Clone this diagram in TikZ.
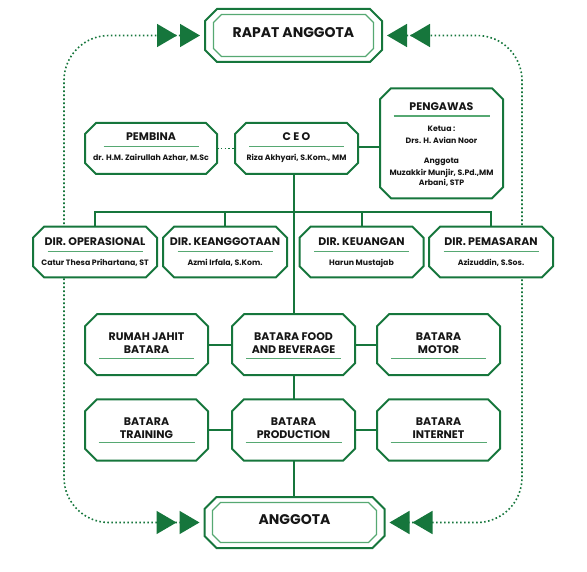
\documentclass[tikz,border=0pt]{standalone}
\usepackage{fontspec}
\setmainfont{Poppins}
\usetikzlibrary{arrows.meta}
\definecolor{gr}{RGB}{22,118,60}
\definecolor{lg}{RGB}{86,168,114}
\definecolor{tx}{RGB}{22,22,22}
\pgfdeclarelayer{bg}
\pgfsetlayers{bg,main}
\newcommand\octo[3][11pt]{\draw[#3] ([xshift=#1]#2.north west) -- ([xshift=-#1]#2.north east) -- ([yshift=-#1]#2.north east) -- ([yshift=#1]#2.south east) -- ([xshift=-#1]#2.south east) -- ([xshift=#1]#2.south west) -- ([yshift=#1]#2.south west) -- ([yshift=-#1]#2.north west) -- cycle;}
\tikzset{
  boxline/.style={draw=gr, fill=white, line width=2pt, line join=miter},
  innerline/.style={draw=lg, line width=1.3pt, line join=miter},
  frame/.style={draw=none, inner sep=0pt, outer sep=0pt},
  conn/.style={draw=gr, line width=2pt},
  dots/.style={draw=gr, line width=1.6pt, dash pattern=on 1.6pt off 2.4pt, rounded corners=45pt},
  uline/.style={draw=lg, line width=1.3pt},
  big/.style={font=\bfseries\fontsize{14}{16}\selectfont, text=tx, inner sep=0pt, text height=0.7em, text depth=0pt},
  ttl/.style={font=\bfseries\fontsize{11}{12}\selectfont, text=tx, inner sep=0pt, text height=0.7em, text depth=0pt},
  sub/.style={font=\bfseries\fontsize{7.8}{8}\selectfont, text=tx, inner sep=0pt, text height=0.7em, text depth=0pt},
  tri/.tip={Triangle[length=20pt,width=23pt,sep=3pt]},
  dbl/.style={arrows={tri[]tri[]-tri[]tri[]}, shorten <=2pt, shorten >=2pt}
}
\begin{document}
\begin{tikzpicture}[x=1pt,y=-1pt]
\useasboundingbox (0,0) rectangle (587,572);
% top and bottom
\node[frame, minimum width=177pt, minimum height=53pt] (rapat) at (293.5,35.5) {};
\node[frame, minimum width=160pt, minimum height=42pt] (rapatIn) at (293.5,35.5) {};
\octo[12pt]{rapat}{boxline}
\octo[8pt]{rapatIn}{innerline}
\node[big] (rapatT) at ([yshift=1pt]rapat.center) {RAPAT ANGGOTA};

\node[frame, minimum width=180pt, minimum height=51pt] (anggota) at (294.5,522.5) {};
\node[frame, minimum width=164pt, minimum height=40pt] (anggotaIn) at (294.5,522.5) {};
\octo[12pt]{anggota}{boxline}
\octo[8pt]{anggotaIn}{innerline}
\node[big] (anggotaT) at ([yshift=1.5pt]anggota.center) {ANGGOTA};

% pembina, ceo, pengawas
\node[frame, minimum width=132pt, minimum height=51pt] (pembina) at (151,148.5) {};
\octo{pembina}{boxline}
\node[ttl] (pembinaT) at ([yshift=11.8pt]pembina.center) {PEMBINA};
\draw[uline] ([xshift=-47.5pt,yshift=1.8pt]pembina.center) -- ([xshift=47.5pt,yshift=1.8pt]pembina.center);
\node[sub] (pembinaS) at ([yshift=-8.2pt]pembina.center) {dr. H.M. Zairullah Azhar, M.Sc};

\node[frame, minimum width=123pt, minimum height=51pt] (ceo) at (296.5,148.5) {};
\octo{ceo}{boxline}
\node[ttl] (ceoT) at ([yshift=11.8pt]ceo.center) {C E O};
\draw[uline] ([xshift=-47.5pt,yshift=1.8pt]ceo.center) -- ([xshift=47.5pt,yshift=1.8pt]ceo.center);
\node[sub] (ceoS) at ([yshift=-8.2pt]ceo.center) {Riza Akhyari, S.Kom., MM};

\node[frame, minimum width=123pt, minimum height=110pt] (pengawas) at (441.5,143.3) {};
\octo{pengawas}{boxline}
\node[ttl] (pengawasT) at ([yshift=36pt]pengawas.center) {PENGAWAS};
\draw[uline] ([xshift=-48pt,yshift=27.3pt]pengawas.center) -- ([xshift=48pt,yshift=27.3pt]pengawas.center);
\node[sub] (pg1) at ([yshift=15pt]pengawas.center) {Ketua :};
\node[sub] (pg2) at ([yshift=3.3pt]pengawas.center) {Drs. H. Avian Noor};
\node[sub] (pg3) at ([yshift=-16.7pt]pengawas.center) {Anggota};
\node[sub] (pg4) at ([yshift=-29pt]pengawas.center) {Muzakkir Munjir, S.Pd.,MM};
\node[sub] (pg5) at ([yshift=-39pt]pengawas.center) {Arbani, STP};

% directors
\foreach \n/\x/\t/\s in {dops/95/DIR. OPERASIONAL/Catur Thesa Prihartana{,} ST, dkeang/225/DIR. KEANGGOTAAN/Azmi Irfala{,} S.Kom., dkeu/361.5/DIR. KEUANGAN/Harun Mustajab, dpem/491/DIR. PEMASARAN/Azizuddin{,} S.Sos.}{
  \node[frame, minimum width=124pt, minimum height=50.6pt] (\n) at (\x,252) {};
  \octo{\n}{boxline}
  \node[ttl] (\n T) at ([yshift=10.3pt]\n.center) {\t};
  \draw[uline] ([xshift=-47.5pt,yshift=0.3pt]\n.center) -- ([xshift=47.5pt,yshift=0.3pt]\n.center);
  \node[sub] (\n S) at ([yshift=-10.3pt]\n.center) {\s};
}

% row 2
\foreach \n/\x/\a/\b in {jahit/146.5/RUMAH JAHIT/BATARA, food/293.5/BATARA FOOD/AND BEVERAGE, motor/438.5/BATARA/MOTOR}{
  \node[frame, minimum width=123pt, minimum height=61pt] (\n) at (\x,344.7) {};
  \octo[12pt]{\n}{boxline}
  \node[ttl] (\n A) at ([yshift=7.4pt]\n.center) {\a};
  \node[ttl] (\n B) at ([yshift=-5.3pt]\n.center) {\b};
  \draw[uline] ([xshift=-47.5pt,yshift=-13.6pt]\n.center) -- ([xshift=47.5pt,yshift=-13.6pt]\n.center);
}
% row 3
\foreach \n/\x/\a/\b in {training/146.5/BATARA/TRAINING, prod/293.5/BATARA/PRODUCTION, internet/438.5/BATARA/INTERNET}{
  \node[frame, minimum width=123pt, minimum height=61.4pt] (\n) at (\x,430) {};
  \octo[12pt]{\n}{boxline}
  \node[ttl] (\n A) at ([yshift=7.7pt]\n.center) {\a};
  \node[ttl] (\n B) at ([yshift=-5pt]\n.center) {\b};
  \draw[uline] ([xshift=-48pt,yshift=-12.3pt]\n.center) -- ([xshift=48pt,yshift=-12.3pt]\n.center);
}

% connectors
\begin{pgfonlayer}{bg}
\coordinate (bus) at (293.5,212);
\draw[conn, dash pattern=on 1.6pt off 2.2pt, line width=1.6pt] (pembina.east) -- (ceo.west);
\draw[conn] (ceo.east |- pembina.east) ++(0,-1.8) -- ([yshift=1.8pt]pengawas.west |- pembina.east);
\draw[conn] (food.north) -- (food.north |- ceo.south);
\draw[conn] (dops.north) -- (dops.north |- bus) -- (dpem.north |- bus) -- (dpem.north);
\draw[conn] (dkeang.north) -- (dkeang.north |- bus);
\draw[conn] (dkeu.north) -- (dkeu.north |- bus);
\draw[conn] (food.west) -- (jahit.east);
\draw[conn] (food.east) -- (motor.west);
\draw[conn] (food.south) -- (prod.north);
\draw[conn] (prod.west) -- (training.east);
\draw[conn] (prod.east) -- (internet.west);
\draw[conn] (prod.south) -- (prod.south |- anggota.north);

% dotted loops
\coordinate (lt) at (64,35.5);
\coordinate (lb) at (64,522.5);
\coordinate (rt) at (522,35.5);
\coordinate (rb) at (522,522.5);
\draw[dots, dbl] (rapat.west) -- (lt) -- (lb) -- (anggota.west);
\draw[dots, dbl] (rapat.east) -- (rt) -- (rb) -- (anggota.east);
\end{pgfonlayer}
\end{tikzpicture}
\end{document}
